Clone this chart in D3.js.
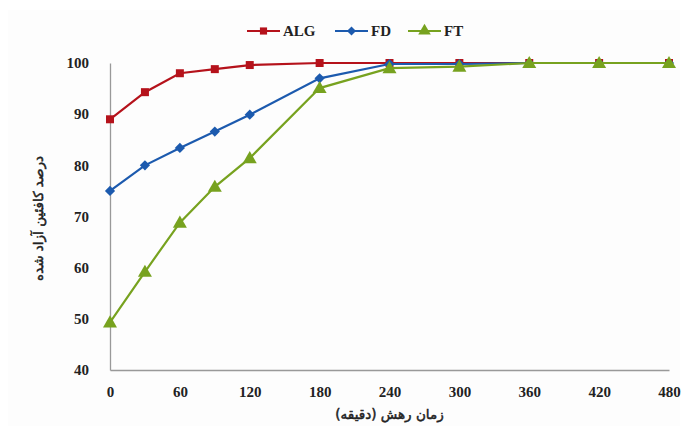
<!DOCTYPE html>
<html lang="fa">
<head>
<meta charset="UTF-8">
<title>Caffeine release</title>
<style>
  body { margin: 0; background: #fff; }
  .tick text { font-family: "Liberation Serif", "Times New Roman", serif; font-weight: bold; font-size: 15px; fill: #222; }
  .fa { font-family: "DejaVu Sans", sans-serif; font-size: 13.5px; fill: #222; stroke: #222; stroke-width: 0.5px; }
</style>
</head>
<body>
<div id="chart"></div>
<script src="https://d3js.org/d3.v7.min.js"></script>
<script>
const times = [0, 30, 60, 90, 120, 180, 240, 300, 360, 420, 480]
const alg = [89, 94.3, 98, 98.8, 99.6, 100, 100, 100, 100, 100, 100]
const fd = [75, 80, 83.4, 86.6, 89.9, 97, 99.8, 99.8, 100, 100, 100]
const ft = [49.3, 59.2, 68.8, 75.8, 81.4, 95.1, 99, 99.3, 100, 100, 100]
const xTicks = [0, 60, 120, 180, 240, 300, 360, 420, 480]
const yTicks = [40, 50, 60, 70, 80, 90, 100]
const seriesNames = ['ALG', 'FD', 'FT']

const width = 686
const height = 430
const margin = { top: 63, right: 17, bottom: 60, left: 110 }

const svg = d3.select('#chart').append('svg')
  .attr('width', width)
  .attr('height', height)

svg.append('rect')
  .attr('x', 8).attr('y', 10)
  .attr('width', width - 14).attr('height', height - 14)
  .attr('fill', '#fdfdfd')

const x = d3.scaleLinear().domain([0, 480]).range([margin.left, width - margin.right])
const y = d3.scaleLinear().domain([40, 100]).range([height - margin.bottom, margin.top])

const xAxis = svg.append('g')
  .attr('transform', `translate(0, ${height - margin.bottom})`)
  .call(d3.axisBottom(x).tickValues(xTicks).tickSize(0).tickPadding(16))
xAxis.select('.domain').attr('stroke', '#999').attr('stroke-width', 1.3)

const yAxis = svg.append('g')
  .attr('transform', `translate(${margin.left}, 0)`)
  .call(d3.axisLeft(y).tickValues(yTicks).tickSize(0).tickPadding(21))
yAxis.select('.domain').attr('stroke', '#999').attr('stroke-width', 1.3)

// axis titles
svg.append('text')
  .attr('class', 'fa')
  .attr('x', (x(0) + x(480)) / 2)
  .attr('y', 419)
  .attr('text-anchor', 'middle')
  .text('زمان رهش (دقیقه)')

svg.append('text')
  .attr('class', 'fa')
  .attr('transform', `translate(43, ${(y(40) + y(100)) / 2 + 2}) rotate(-90)`)
  .attr('text-anchor', 'middle')
  .text('درصد کافئین آزاد شده')

// diamond = square turned 45deg
const series = [
  { name: 'ALG', values: alg, color: '#b5121b', symbol: d3.symbolSquare, size: 64, rot: 0, dy: 0 },
  { name: 'FD', values: fd, color: '#1c5aae', symbol: d3.symbolSquare, size: 52, rot: 45, dy: 0 },
  { name: 'FT', values: ft, color: '#77a21f', symbol: d3.symbolTriangle, size: 85, rot: 0, dy: 1 }
]

const line = d3.line()
  .x((d, i) => x(times[i]))
  .y(d => y(d))

series.forEach(s => {
  const g = svg.append('g')
  g.append('path')
    .attr('d', line(s.values))
    .attr('fill', 'none')
    .attr('stroke', s.color)
    .attr('stroke-width', 2.2)
  g.selectAll('path.pt')
    .data(s.values)
    .enter()
    .append('path')
    .attr('class', 'pt')
    .attr('d', d3.symbol().type(s.symbol).size(s.size))
    .attr('transform', (d, i) => `translate(${x(times[i])}, ${y(d) + s.dy}) rotate(${s.rot})`)
    .attr('fill', s.color)
})

// legend
const legendX = [247, 335, 408]
series.forEach((s, i) => {
  const g = svg.append('g').attr('transform', `translate(${legendX[i]}, 31)`)
  g.append('line')
    .attr('x1', 0).attr('x2', 33)
    .attr('stroke', s.color).attr('stroke-width', 2.2)
  g.append('path')
    .attr('d', d3.symbol().type(s.symbol).size(s.size * 0.8))
    .attr('transform', `translate(16.5, 0) rotate(${s.rot})`)
    .attr('fill', s.color)
  g.append('text')
    .attr('x', 36).attr('y', 5)
    .attr('font-family', '"Liberation Serif", "Times New Roman", serif')
    .attr('font-weight', 'bold')
    .attr('font-size', 15)
    .attr('fill', '#222')
    .text(seriesNames[i])
})
</script>
</body>
</html>
